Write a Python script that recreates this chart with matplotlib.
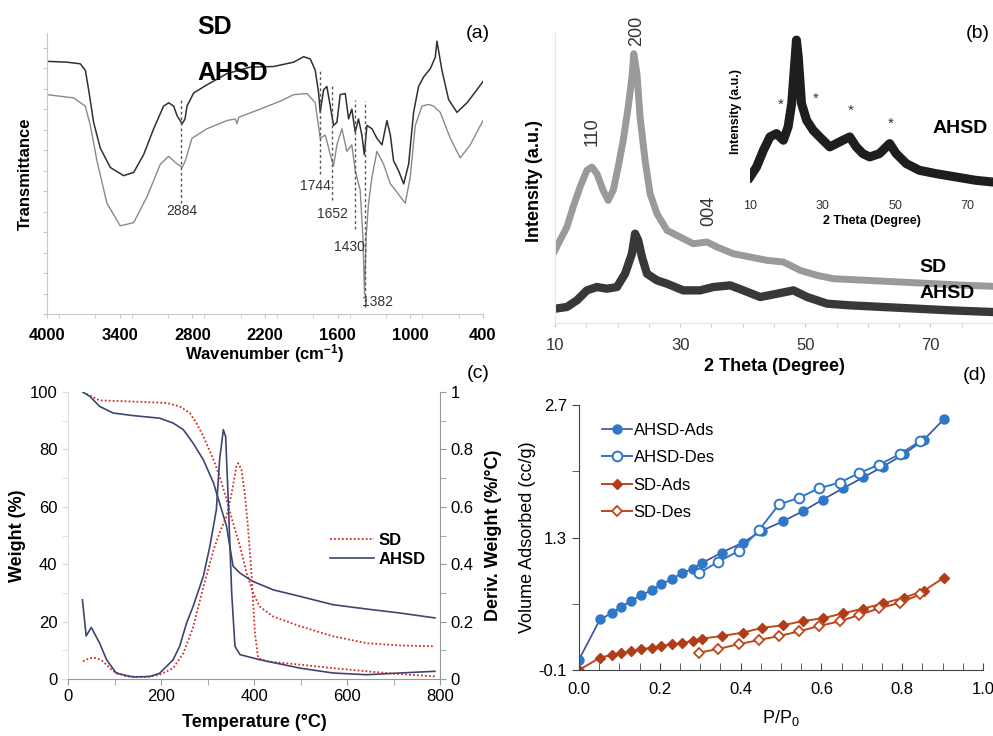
import matplotlib.pyplot as plt
import matplotlib.ticker as mticker

plt.rcParams['font.family'] = ['Liberation Sans', 'DejaVu Sans']
plt.rcParams['mathtext.default'] = 'regular'

# ---- (a) FTIR ----
wn_sd = [4000, 3835, 3725, 3683, 3656, 3615, 3560, 3477, 3367, 3284, 3202, 3119, 3037, 2995, 2954, 2926, 2884,
         2860, 2844, 2789, 2679, 2514, 2321, 2129, 1963, 1881, 1826, 1785, 1757, 1744, 1716, 1689, 1661, 1634,
         1606, 1579, 1537, 1510, 1483, 1455, 1428, 1400, 1380, 1358, 1317, 1276, 1234, 1193, 1165, 1138, 1097,
         1055, 1014, 973, 932, 890, 835, 794, 780, 739, 684, 615, 532, 450, 400]
tr_sd = [92.6, 92.3, 91.7, 89.3, 82.2, 70.3, 60.8, 53.7, 50.7, 51.9, 58.4, 67.9, 76.2, 77.4, 76.2, 72.7, 69.7,
         71.5, 76.2, 81.0, 84.0, 88.1, 90.5, 90.7, 92.3, 94.3, 93.5, 89.3, 81.0, 73.9, 82.2, 83.4, 76.2, 69.1,
         70.3, 80.4, 80.8, 71.5, 75.1, 66.7, 71.5, 65.6, 58.4, 69.1, 67.9, 64.4, 62.0, 70.9, 65.6, 56.1, 52.5,
         47.7, 54.9, 73.9, 83.4, 86.9, 89.9, 94.1, 100.0, 89.3, 78.6, 73.9, 77.4, 82.2, 85.2]
wn_ahsd = [4000, 3780, 3684, 3642, 3587, 3505, 3395, 3284, 3174, 3064, 2995, 2940, 2884, 2858, 2803, 2679, 2514,
           2445, 2431, 2417, 2239, 2074, 1963, 1853, 1785, 1744, 1702, 1661, 1634, 1606, 1565, 1524, 1483, 1455,
           1414, 1392, 1378, 1364, 1345, 1317, 1276, 1221, 1165, 1124, 1083, 1042, 1001, 959, 904, 849, 808,
           753, 670, 588, 505, 400]
tr_ahsd = [80.4, 79.2, 76.2, 69.1, 56.1, 40.6, 32.3, 33.5, 43.0, 54.9, 57.8, 55.5, 53.7, 56.1, 64.4, 67.9, 70.9,
           71.5, 69.7, 72.1, 75.1, 78.0, 80.4, 80.8, 77.4, 64.4, 65.6, 58.4, 54.3, 62.0, 67.9, 59.6, 62.0, 52.5,
           45.4, 28.7, 7.4, 28.7, 40.6, 50.1, 59.6, 54.9, 47.7, 45.4, 43.0, 40.6, 50.1, 69.1, 76.2, 76.8, 76.2,
           73.9, 64.4, 57.2, 62.0, 70.9]
peak_wn = [2884, 1744, 1652, 1430, 1382]
peak_line_top = [78.6, 89.3, 83.4, 78.6, 78.0]
peak_line_bottom = [40.6, 51.3, 41.8, 31.1, 2.6]
peak_line_x = [2891, 1744, 1647, 1455, 1378]
peak_label_x = [2884, 1785, 1640, 1500, 1270]
peak_label_y = [37.6, 46.8, 36.8, 24.6, 4.4]

# ---- (b) XRD ----
th_sd = [10, 10.8, 11.9, 12.9, 14.0, 15.1, 15.9, 16.7, 17.7, 18.5, 19.3, 20.1, 20.9, 21.7, 22.3, 22.6, 23.1, 23.6,
         24.4, 25.2, 26.3, 27.9, 30.0, 32.1, 34.3, 35.9, 38.5, 41.2, 43.9, 46.5, 49.2, 51.9, 54.5, 59.9, 65.2,
         70.5, 75.9, 80]
xrd_sd = [21.8, 24.8, 28.8, 34.8, 40.8, 45.8, 46.8, 44.8, 39.8, 36.8, 39.8, 46.8, 54.8, 64.8, 73.8, 80.8, 74.8, 61.8,
          48.8, 38.8, 32.8, 27.8, 25.8, 23.8, 24.3, 22.8, 20.8, 19.8, 18.8, 18.3, 15.8, 14.3, 13.3, 12.8, 12.3,
          11.8, 11.3, 11.0]
th_ahsd = [10, 11.9, 13.5, 15.1, 16.7, 18.3, 19.9, 21.2, 22.3, 22.8, 23.3, 23.9, 24.7, 26.3, 27.9, 30.5, 33.2, 35.3,
           38.0, 40.1, 42.8, 45.5, 48.1, 50.3, 53.5, 57.2, 62.5, 67.9, 73.2, 80]
xrd_ahsd = [4.3, 4.8, 6.8, 9.8, 10.8, 10.3, 10.8, 14.8, 20.8, 26.8, 24.8, 19.8, 14.8, 12.8, 11.8, 9.8, 9.8, 10.8,
            11.3, 9.8, 7.8, 8.8, 9.8, 7.8, 5.8, 5.3, 4.8, 4.3, 3.8, 3.3]
th_inset = [10, 11.8, 13.7, 15.5, 17.3, 19.2, 20.5, 21.5, 22.4, 22.8, 23.3, 24.2, 25.6, 27.4, 29.2, 32.0, 33.8,
            35.6, 37.5, 39.3, 41.1, 43.0, 45.7, 48.5, 50.3, 53.1, 56.7, 61.3, 66.8, 72.3, 76.9]
xrd_inset = [45, 75, 125, 165, 175, 155, 195, 265, 395, 455, 405, 265, 215, 185, 165, 135, 145,
             155, 165, 135, 115, 105, 115, 145, 115, 85, 65, 55, 45, 35, 30]
star_x = [18.4, 28.1, 37.9, 48.8]
star_y = [247, 265, 228, 190]

# ---- (c) TGA ----
t_sd_w = [32, 68, 140, 212, 240, 262, 276, 291, 313, 326, 341, 355, 370, 384, 398, 412, 441, 499, 570, 642, 714, 789]
w_sd = [100, 97.1, 96.7, 96.2, 95.0, 92.7, 89.2, 84.6, 76.4, 70.6, 62.5, 54.4, 46.2, 36.9, 30.0, 25.3, 21.8,
        18.4, 14.9, 12.5, 11.7, 11.4]
t_sd_d = [32, 47, 61, 75, 97, 126, 169, 197, 226, 248, 269, 291, 313, 326, 341, 352, 362, 366, 373, 380, 387,
          395, 402, 409, 427, 499, 570, 642, 714, 793]
d_sd = [0.062, 0.073, 0.073, 0.062, 0.027, 0.009, 0.007, 0.015, 0.038, 0.09, 0.18, 0.32, 0.45, 0.51, 0.567,
        0.648, 0.74, 0.752, 0.73, 0.648, 0.53, 0.358, 0.16, 0.073, 0.062, 0.05, 0.038, 0.027, 0.017, 0.009]
t_ahsd_w = [32, 47, 68, 97, 140, 197, 226, 248, 269, 291, 313, 326, 341, 348, 355, 370, 398, 441, 499, 570, 642,
            714, 789]
w_ahsd = [100, 98.5, 95.0, 92.7, 91.8, 90.9, 89.2, 86.9, 82.2, 76.4, 68.3, 61.3, 53.2, 46.2, 39.3, 36.9, 34.0,
          31.1, 28.8, 25.9, 24.4, 23.0, 21.3]
t_ahsd_d = [31, 39, 50, 68, 83, 104, 140, 176, 197, 226, 240, 255, 269, 291, 305, 319, 326, 334, 339, 344, 352,
            359, 370, 413, 499, 570, 642, 714, 789]
d_ahsd = [0.276, 0.150, 0.180, 0.125, 0.067, 0.02, 0.007, 0.009, 0.02, 0.067, 0.114, 0.195, 0.253, 0.358,
          0.462, 0.59, 0.764, 0.869, 0.845, 0.648, 0.30, 0.114, 0.085, 0.067, 0.038, 0.021, 0.015, 0.021, 0.027]

# ---- (d) BET isotherms ----
p_ahsd_ads = [0.0, 0.052, 0.081, 0.105, 0.129, 0.154, 0.18, 0.204, 0.229, 0.254, 0.281, 0.304, 0.353, 0.405,
              0.452, 0.504, 0.555, 0.603, 0.654, 0.703, 0.753, 0.804, 0.853, 0.903]
v_ahsd_ads = [0.01, 0.435, 0.50, 0.57, 0.63, 0.69, 0.745, 0.805, 0.86, 0.92, 0.97, 1.03, 1.14, 1.245, 1.37,
              1.47, 1.58, 1.70, 1.82, 1.935, 2.05, 2.18, 2.33, 2.55]
p_ahsd_des = [0.296, 0.345, 0.397, 0.446, 0.495, 0.545, 0.594, 0.645, 0.693, 0.743, 0.794, 0.845]
v_ahsd_des = [0.92, 1.045, 1.16, 1.38, 1.65, 1.72, 1.82, 1.88, 1.98, 2.07, 2.18, 2.32]
p_sd_ads = p_ahsd_ads
v_sd_ads = [-0.1, 0.03, 0.06, 0.076, 0.10, 0.118, 0.136, 0.154, 0.171, 0.182, 0.21, 0.231, 0.259, 0.294, 0.344,
            0.372, 0.418, 0.446, 0.499, 0.548, 0.604, 0.664, 0.735, 0.875]
p_sd_des = p_ahsd_des
v_sd_des = [0.083, 0.122, 0.175, 0.217, 0.259, 0.308, 0.365, 0.414, 0.481, 0.551, 0.611, 0.699]

fig = plt.figure(figsize=(9.93, 7.36), dpi=100)
grey_spine = '#c8c8c8'

# (a)
ax1 = fig.add_axes([0.0473, 0.5734, 0.4391, 0.3818])
ax1.plot(wn_sd, tr_sd, color='#303030', lw=1.1)
ax1.plot(wn_ahsd, tr_ahsd, color='#8a8a8a', lw=1.0)
for xl, y0, y1 in zip(peak_line_x, peak_line_bottom, peak_line_top):
    ax1.plot([xl, xl], [y0, y1], color='#555555', lw=1, ls=(0, (2, 2)))
for lab, xt, yt in zip(peak_wn, peak_label_x, peak_label_y):
    ax1.text(xt, yt, str(lab), fontsize=10, ha='center', va='center', color='#333333')
ax1.set_xlim(4000, 400)
ax1.set_ylim(0, 103)
ax1.set_xticks([4000, 3400, 2800, 2200, 1600, 1000, 400])
ax1.xaxis.set_minor_locator(mticker.MultipleLocator(300))
ax1.yaxis.set_major_locator(mticker.MultipleLocator(7.5))
ax1.set_yticklabels([])
ax1.tick_params(axis='y', length=3, color=grey_spine)
ax1.tick_params(axis='x', which='both', length=3, color=grey_spine, labelsize=12, pad=7)
for lbl in ax1.get_xticklabels():
    lbl.set_fontweight('bold')
for s in ['top', 'right']:
    ax1.spines[s].set_visible(False)
for s in ['left', 'bottom']:
    ax1.spines[s].set_color(grey_spine)
ax1.set_xlabel('Wavenumber (cm$^{-1}$)', fontsize=12, fontweight='bold')
ax1.xaxis.set_label_coords(0.5, -0.1)
ax1.set_ylabel('Transmittance', fontsize=12, fontweight='bold')
ax1.yaxis.set_label_coords(-0.032, 0.5)
fig.text(215 / 993, 1 - 27 / 736, 'SD', fontsize=18, fontweight='bold', ha='center', va='center')
fig.text(233 / 993, 1 - 73 / 736, 'AHSD', fontsize=18, fontweight='bold', ha='center', va='center')
fig.text(478 / 993, 1 - 33 / 736, '(a)', fontsize=14, ha='center', va='center')

# (b)
ax2 = fig.add_axes([0.5589, 0.5611, 0.4411, 0.394])
ax2.plot(th_sd, xrd_sd, color='#9a9a9a', lw=5, solid_joinstyle='round')
ax2.plot(th_ahsd, xrd_ahsd, color='#383838', lw=6, solid_joinstyle='round')
ax2.set_xlim(10, 80)
ax2.set_ylim(0, 87)
ax2.set_xticks([10, 30, 50, 70])
ax2.xaxis.set_minor_locator(mticker.MultipleLocator(5))
ax2.set_yticks([])
ax2.tick_params(axis='x', which='both', length=3, color=grey_spine, labelsize=12, labelcolor='#333333', pad=8)
for s in ['top', 'right']:
    ax2.spines[s].set_visible(False)
for s in ['left', 'bottom']:
    ax2.spines[s].set_color('#e6e6e6')
ax2.set_xlabel('2 Theta (Degree)', fontsize=13, fontweight='bold')
ax2.xaxis.set_label_coords(0.5, -0.12)
ax2.set_ylabel('Intensity (a.u.)', fontsize=13, fontweight='bold')
ax2.yaxis.set_label_coords(-0.027, 0.49)
ax2.text(15.9, 53, '110', rotation=90, fontsize=13, ha='center', va='bottom', color='#333333')
ax2.text(23.0, 83, '200', rotation=90, fontsize=13, ha='center', va='bottom', color='#333333', clip_on=False)
ax2.text(34.6, 29, '004', rotation=90, fontsize=13, ha='center', va='bottom', color='#333333')
fig.text(933 / 993, 1 - 267 / 736, 'SD', fontsize=14, fontweight='bold', ha='center', va='center')
fig.text(947 / 993, 1 - 293 / 736, 'AHSD', fontsize=14, fontweight='bold', ha='center', va='center')
fig.text(978 / 993, 1 - 33 / 736, '(b)', fontsize=14, ha='center', va='center')

# (b) inset
ax3 = fig.add_axes([0.7553, 0.7391, 0.2447, 0.2201])
ax3.plot(th_inset, xrd_inset, color='#1e1e1e', lw=6.5, solid_joinstyle='round')
for sx, sy in zip(star_x, star_y):
    ax3.text(sx, sy + 15, '*', fontsize=11, ha='center', va='center', color='#333333')
ax3.set_xlim(10, 77)
ax3.set_ylim(0, 485)
ax3.set_xticks([10, 30, 50, 70])
ax3.set_yticks([])
ax3.tick_params(axis='x', length=0, labelsize=9, labelcolor='#333333', pad=6)
for s in ax3.spines.values():
    s.set_visible(False)
ax3.patch.set_alpha(0)
ax3.set_xlabel('2 Theta (Degree)', fontsize=9, fontweight='bold')
ax3.xaxis.set_label_coords(0.5, -0.14)
ax3.set_ylabel('Intensity (a.u.)', fontsize=9, fontweight='bold')
ax3.yaxis.set_label_coords(-0.033, 0.5)
ax3.text(68, 190, 'AHSD', fontsize=14, fontweight='bold', ha='center', va='center')

# (c)
ax4 = fig.add_axes([0.0685, 0.0774, 0.3746, 0.3899])
ax4.plot(t_sd_w, w_sd, color='#d0302a', lw=1.3, ls=(0, (1, 1.2)), label='SD')
ax4.plot(t_ahsd_w, w_ahsd, color='#3c4670', lw=1.2, label='AHSD')
ax4.set_xlim(0, 800)
ax4.set_ylim(0, 100)
ax4.set_xticks([0, 200, 400, 600, 800])
ax4.xaxis.set_minor_locator(mticker.MultipleLocator(100))
ax4.yaxis.set_major_locator(mticker.MultipleLocator(20))
ax4.yaxis.set_minor_locator(mticker.MultipleLocator(10))
ax4.tick_params(axis='both', which='both', length=4, color='#999999', labelsize=12)
ax4.tick_params(axis='y', which='both', color='#dddddd')
ax4.spines['top'].set_visible(False)
ax4.spines['right'].set_visible(False)
ax4.spines['left'].set_color('#dddddd')
ax4.spines['bottom'].set_color('#999999')
ax4.set_xlabel('Temperature (°C)', fontsize=13, fontweight='bold')
ax4.xaxis.set_label_coords(0.5, -0.122)
ax4.set_ylabel('Weight (%)', fontsize=13, fontweight='bold')
ax4.yaxis.set_label_coords(-0.113, 0.5)
leg = ax4.legend(loc='upper left', bbox_to_anchor=(0.665, 0.56), frameon=False, fontsize=12,
                 handlelength=2.6, handletextpad=0.3, labelspacing=0.2)
for t in leg.get_texts():
    t.set_fontweight('bold')

ax5 = ax4.twinx()
ax5.plot(t_sd_d, d_sd, color='#d0302a', lw=1.3, ls=(0, (1, 1.2)))
ax5.plot(t_ahsd_d, d_ahsd, color='#3c4670', lw=1.2)
ax5.set_xlim(0, 800)
ax5.set_ylim(0, 1)
ax5.yaxis.set_major_locator(mticker.MultipleLocator(0.2))
ax5.yaxis.set_minor_locator(mticker.MultipleLocator(0.1))
ax5.yaxis.set_major_formatter(mticker.FuncFormatter(lambda v, p: '%g' % round(v, 1)))
ax5.tick_params(axis='y', which='both', length=4, color='#999999', labelsize=12)
ax5.spines['top'].set_visible(False)
ax5.spines['left'].set_visible(False)
ax5.spines['bottom'].set_visible(False)
ax5.spines['right'].set_color('#999999')
ax5.set_ylabel('Deriv. Weight (%/°C)', fontsize=13, fontweight='bold')
ax5.yaxis.set_label_coords(1.12, 0.5)
fig.text(478 / 993, 1 - 374 / 736, '(c)', fontsize=14, ha='center', va='center')

# (d)
ax6 = fig.add_axes([0.5831, 0.0897, 0.4068, 0.36])
blue = '#2f78c8'
red = '#c0461c'
ax6.plot(p_ahsd_ads, v_ahsd_ads, color='#3a4f98', lw=1.2, marker='o', ms=6.5,
         mfc=blue, mec=blue, label='AHSD-Ads')
ax6.plot(p_ahsd_des, v_ahsd_des, color=blue, lw=1.4, marker='o', ms=7,
         mfc='white', mec=blue, mew=1.4, label='AHSD-Des')
ax6.plot(p_sd_ads, v_sd_ads, color=red, lw=1.4, marker='D', ms=5.5,
         mfc='#b03c18', mec='#b03c18', label='SD-Ads')
ax6.plot(p_sd_des, v_sd_des, color=red, lw=1.4, marker='D', ms=5.5,
         mfc='white', mec=red, mew=1.3, label='SD-Des')
ax6.set_xlim(0, 1.0)
ax6.set_ylim(-0.1, 2.7)
ax6.set_xticks([0.0, 0.2, 0.4, 0.6, 0.8, 1.0])
ax6.xaxis.set_major_formatter(mticker.FormatStrFormatter('%.1f'))
ax6.xaxis.set_minor_locator(mticker.MultipleLocator(0.05))
ax6.yaxis.set_major_locator(mticker.FixedLocator([-0.1, 1.3, 2.7]))
ax6.yaxis.set_major_formatter(mticker.FuncFormatter(lambda v, p: '%.1f' % v))
ax6.yaxis.set_minor_locator(mticker.FixedLocator([0.6, 2.0]))
ax6.tick_params(axis='x', which='both', direction='in', length=5, color='#444444', labelsize=12, pad=9)
ax6.tick_params(axis='y', which='both', direction='out', length=5, color='#444444', labelsize=12)
ax6.spines['top'].set_visible(False)
ax6.spines['right'].set_visible(False)
ax6.spines['left'].set_color('#444444')
ax6.spines['bottom'].set_color('#444444')
ax6.set_xlabel('P/P$_0$', fontsize=13)
ax6.xaxis.set_label_coords(0.5, -0.143)
ax6.set_ylabel('Volume Adsorbed (cc/g)', fontsize=13)
ax6.yaxis.set_label_coords(-0.106, 0.5)
ax6.legend(loc='upper left', bbox_to_anchor=(0.02, 0.99), frameon=False, fontsize=12,
           handlelength=1.8, handletextpad=0.1, labelspacing=0.75)
fig.text(975 / 993, 1 - 375 / 736, '(d)', fontsize=14, ha='center', va='center')

plt.savefig('out.png', dpi=100)
